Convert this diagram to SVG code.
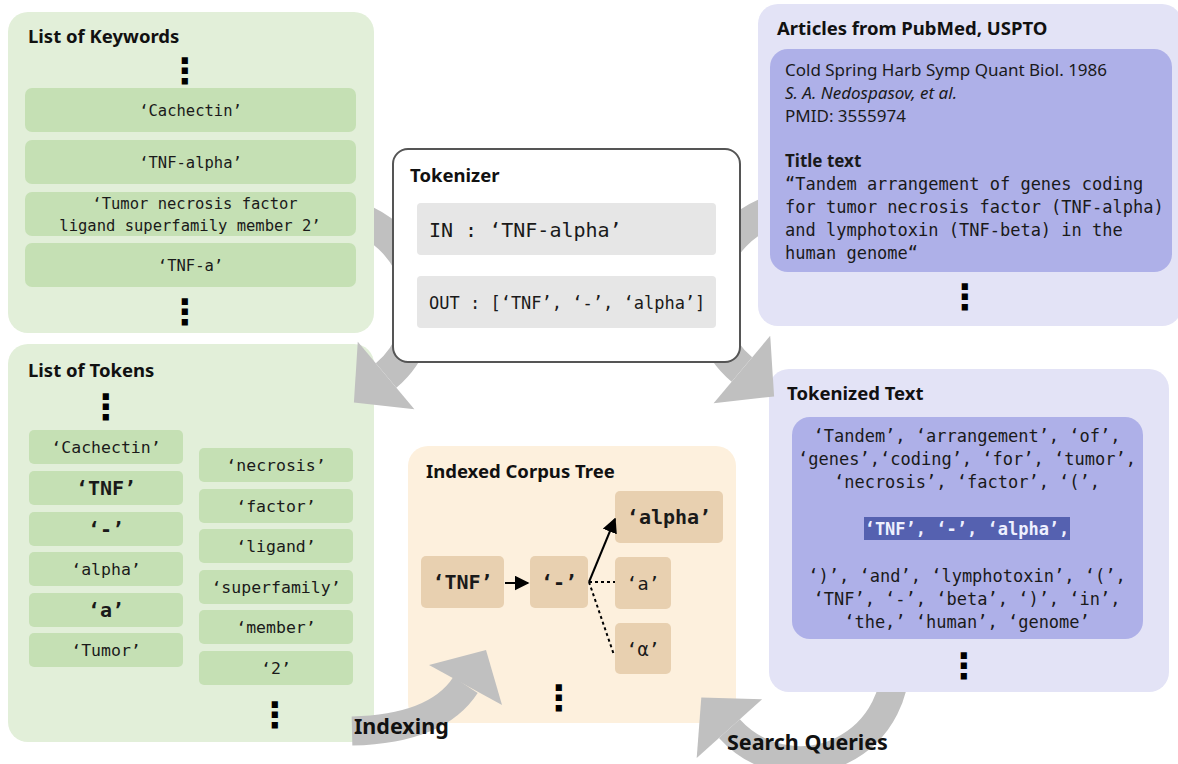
<svg xmlns="http://www.w3.org/2000/svg" width="1178" height="764" viewBox="0 0 1178 764">
<defs>
<style>
.title{font-family:"Noto Sans","Open Sans",sans-serif;font-weight:700;font-size:18.5px;fill:#111}
.sans{font-family:"Noto Sans","Open Sans",sans-serif;font-size:17px;fill:#1a1a1a}
.mono{font-family:"DejaVu Sans Mono","Liberation Mono",monospace;fill:#1a1a1a}
.mid{text-anchor:middle}
.dots{font-family:"DejaVu Sans",sans-serif;font-weight:700;font-size:35px;text-anchor:middle;fill:#000}
.gpanel{fill:#e2efd9}
.gbox{fill:#c5e0b4}
.ppanel{fill:#e3e3f6}
.pbox{fill:#aeb0e8}
.bpanel{fill:#fdf0dd}
.bbox{fill:#e8d0b0}
.big{fill:none;stroke:#c0c0c0}
.bighead{fill:#c0c0c0}
.edge{stroke:#000;stroke-width:2;fill:none}
.dotted{stroke:#000;stroke-width:2;fill:none;stroke-dasharray:3 3}
.lbl{font-family:"Noto Sans","Open Sans",sans-serif;font-weight:700;font-size:21.5px;fill:#111}
</style>
<marker id="ah" viewBox="0 0 10 10" refX="9" refY="5" markerWidth="7.5" markerHeight="7.5" orient="auto" markerUnits="strokeWidth">
<path d="M0,0 L10,5 L0,10 z" fill="#000"/>
</marker>
<clipPath id="clipA1" clipPathUnits="userSpaceOnUse">
<rect x="374" y="0" width="804" height="764"/>
<rect x="0" y="333" width="374" height="431"/>
</clipPath>
<clipPath id="clipA2" clipPathUnits="userSpaceOnUse">
<rect x="0" y="0" width="758" height="764"/>
<rect x="758" y="326" width="420" height="438"/>
</clipPath>
<clipPath id="clipA4" clipPathUnits="userSpaceOnUse">
<rect x="0" y="0" width="769" height="764"/>
<rect x="0" y="692" width="1178" height="72"/>
</clipPath>
</defs>
<rect x="0" y="0" width="1178" height="764" fill="#fff"/>

<g id="list-of-tokens">
<rect class="gpanel" x="8" y="344" width="366" height="398" rx="20"/>
<text class="title" x="28" y="377">List of Tokens</text>
<text class="dots" x="106" y="419">⋮</text>
<rect class="gbox" x="29" y="430" width="154" height="34" rx="5"/>
<text class="mono mid" x="106" y="453" font-size="16.5">‘Cachectin’</text>
<rect class="gbox" x="29" y="471" width="154" height="34" rx="5"/>
<text class="mono mid" x="106" y="495" font-size="20" font-weight="700">‘TNF’</text>
<rect class="gbox" x="29" y="512" width="154" height="34" rx="5"/>
<text class="mono mid" x="106" y="536" font-size="20" font-weight="700">‘-’</text>
<rect class="gbox" x="29" y="552" width="154" height="34" rx="5"/>
<text class="mono mid" x="106" y="575" font-size="16.5">‘alpha’</text>
<rect class="gbox" x="29" y="593" width="154" height="34" rx="5"/>
<text class="mono mid" x="106" y="617" font-size="20" font-weight="700">‘a’</text>
<rect class="gbox" x="29" y="633" width="154" height="34" rx="5"/>
<text class="mono mid" x="106" y="656" font-size="16.5">‘Tumor’</text>
<rect class="gbox" x="199" y="448" width="154" height="34" rx="5"/>
<text class="mono mid" x="276" y="471" font-size="16.5">‘necrosis’</text>
<rect class="gbox" x="199" y="489" width="154" height="34" rx="5"/>
<text class="mono mid" x="276" y="512" font-size="16.5">‘factor’</text>
<rect class="gbox" x="199" y="529" width="154" height="34" rx="5"/>
<text class="mono mid" x="276" y="552" font-size="16.5">‘ligand’</text>
<rect class="gbox" x="199" y="570" width="154" height="34" rx="5"/>
<text class="mono mid" x="276" y="593" font-size="16.5">‘superfamily’</text>
<rect class="gbox" x="199" y="610" width="154" height="34" rx="5"/>
<text class="mono mid" x="276" y="633" font-size="16.5">‘member’</text>
<rect class="gbox" x="199" y="651" width="154" height="34" rx="5"/>
<text class="mono mid" x="276" y="674" font-size="16.5">‘2’</text>
<text class="dots" x="275" y="727">⋮</text>
</g>

<g id="indexed-corpus-tree">
<rect class="bpanel" x="408" y="446" width="328" height="277" rx="20"/>
<text class="title" x="426" y="478">Indexed Corpus Tree</text>
<g id="tree-tnf">
<rect class="bbox" x="421" y="556" width="83" height="52" rx="5"/>
<text class="mono mid" x="462.5" y="589" font-size="20" font-weight="700">‘TNF’</text>
</g>
<g id="tree-dash">
<rect class="bbox" x="530" y="556" width="58" height="52" rx="5"/>
<text class="mono mid" x="559" y="589" font-size="20" font-weight="700">‘-’</text>
</g>
<g id="tree-alpha">
<rect class="bbox" x="615" y="491" width="108" height="52" rx="5"/>
<text class="mono mid" x="669" y="524" font-size="20" font-weight="700">‘alpha’</text>
</g>
<g id="tree-a">
<rect class="bbox" x="615" y="557" width="56" height="52" rx="5"/>
<text class="mono mid" x="643" y="590" font-size="18.5">‘a’</text>
</g>
<g id="tree-alpha-greek">
<rect class="bbox" x="615" y="623" width="56" height="51" rx="5"/>
<text class="mono mid" x="643" y="656" font-size="18.5">‘α’</text>
</g>
<text class="dots" x="559" y="710">⋮</text>
</g>

<g id="tokenized-text">
<rect class="ppanel" x="769" y="369" width="400" height="323" rx="20"/>
<text class="title" x="787" y="400">Tokenized Text</text>
<rect class="pbox" x="792" y="417" width="351" height="222" rx="18"/>
<g class="mono mid" font-size="17">
<text x="967" y="442">‘Tandem’, ‘arrangement’, ‘of’,</text>
<text x="967" y="465">‘genes’,‘coding’, ‘for’, ‘tumor’,</text>
<text x="967" y="488">‘necrosis’, ‘factor’, ‘(’,</text>
<rect x="864" y="517" width="206" height="23" fill="#5561b0"/>
<text x="967" y="535" font-weight="700" style="fill:#eef0ff">‘TNF’, ‘-’, ‘alpha’,</text>
<text x="967" y="582">‘)’, ‘and’, ‘lymphotoxin’, ‘(’,</text>
<text x="967" y="605">‘TNF’, ‘-’, ‘beta’, ‘)’, ‘in’,</text>
<text x="967" y="628">‘the,’ ‘human’, ‘genome’</text>
</g>
<text class="dots" x="964" y="678">⋮</text>
</g>

<g id="connectors">
<g clip-path="url(#clipA1)">
<path class="big" stroke-width="32" d="M350.8,216.1 A92,92 0 0 1 386.1,375.5"/>
<polygon class="bighead" points="353.9,402.5 414.4,409.2 357.8,341.8"/>
</g>
<g clip-path="url(#clipA2)">
<g transform="translate(1128,-6) scale(-1,1)">
<path class="big" stroke-width="32" d="M350.8,216.1 A92,92 0 0 1 386.1,375.5"/>
<polygon class="bighead" points="353.9,402.5 414.4,409.2 357.8,341.8"/>
</g>
</g>
<path class="big" stroke-width="29" d="M352,731 Q437,729 465.5,685"/>
<polygon class="bighead" points="486,650 429,665 502,705"/>
<g clip-path="url(#clipA4)">
<path class="big" stroke-width="28" d="M893.6,648.5 A95,95 0 0 1 729.4,728.6"/>
<polygon class="bighead" points="701.3,697.4 762.1,699.2 696.7,758"/>
</g>
<line class="edge" x1="505" y1="583" x2="528" y2="583" marker-end="url(#ah)"/>
<line class="edge" x1="589" y1="582" x2="615" y2="519" marker-end="url(#ah)"/>
<line class="dotted" x1="589" y1="582" x2="615" y2="582"/>
<line class="dotted" x1="589" y1="582" x2="614" y2="655"/>
<text class="lbl" x="354" y="734">Indexing</text>
<text class="lbl" x="727" y="750">Search Queries</text>
</g>

<g id="list-of-keywords">
<rect class="gpanel" x="8" y="12" width="366" height="321" rx="20"/>
<text class="title" x="28" y="43">List of Keywords</text>
<text class="dots" x="185" y="83">⋮</text>
<rect class="gbox" x="25" y="88" width="331" height="44" rx="7"/>
<text class="mono mid" x="190.5" y="116" font-size="15.5">‘Cachectin’</text>
<rect class="gbox" x="25" y="140" width="331" height="44" rx="7"/>
<text class="mono mid" x="190.5" y="168" font-size="15.5">‘TNF-alpha’</text>
<rect class="gbox" x="25" y="192" width="331" height="44" rx="7"/>
<text class="mono mid" x="195" y="209" font-size="15.5">‘Tumor necrosis factor</text>
<text class="mono mid" x="190" y="231" font-size="15.5">ligand superfamily member 2’</text>
<rect class="gbox" x="25" y="243" width="331" height="44" rx="7"/>
<text class="mono mid" x="190.5" y="271" font-size="15.5">‘TNF-a’</text>
<text class="dots" x="185" y="324">⋮</text>
</g>

<g id="articles">
<rect class="ppanel" x="758" y="4" width="424" height="322" rx="20"/>
<text class="title" x="777" y="35">Articles from PubMed, USPTO</text>
<rect class="pbox" x="770" y="49" width="402" height="223" rx="18"/>
<text class="sans" x="785" y="76">Cold Spring Harb Symp Quant Biol. 1986</text>
<text class="sans" x="785" y="99" font-style="italic">S. A. Nedospasov, et al.</text>
<text class="sans" x="785" y="122">PMID: 3555974</text>
<text class="sans" x="785" y="167" font-weight="700">Title text</text>
<g class="mono" font-size="17">
<text x="785" y="190">“Tandem arrangement of genes coding</text>
<text x="785" y="213">for tumor necrosis factor (TNF-alpha)</text>
<text x="785" y="236">and lymphotoxin (TNF-beta) in the</text>
<text x="785" y="259">human genome“</text>
</g>
<text class="dots" x="965" y="309">⋮</text>
</g>

<g id="tokenizer">
<rect x="393" y="149" width="347" height="213" rx="15" fill="#fff" stroke="#555" stroke-width="2"/>
<text class="title" x="410" y="182">Tokenizer</text>
<rect x="417" y="203" width="299" height="52" rx="4" fill="#e6e6e6"/>
<text class="mono" x="429" y="237" font-size="20">IN : ‘TNF-alpha’</text>
<rect x="417" y="276" width="299" height="52" rx="4" fill="#e6e6e6"/>
<text class="mono" x="429" y="309" font-size="17">OUT : [‘TNF’, ‘-’, ‘alpha’]</text>
</g>
</svg>
